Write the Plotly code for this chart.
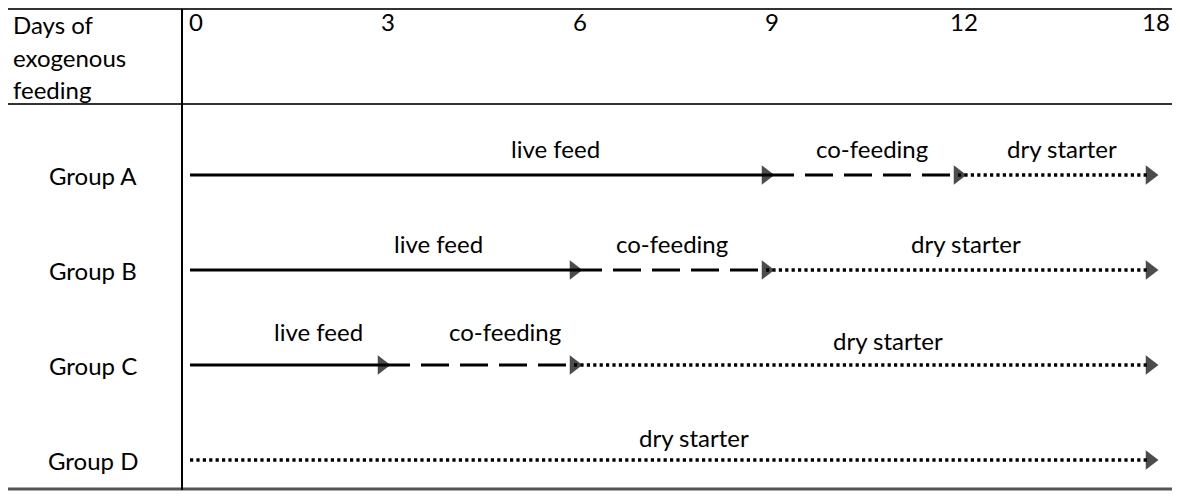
import plotly.graph_objects as go

# feeding schedule (days of exogenous feeding)
tick_days = [0, 3, 6, 9, 12, 18]
groups = ["Group A", "Group B", "Group C", "Group D"]
live_end = [9, 6, 3, 0]
cofeed_end = [12, 9, 6, 0]
last_day = 18
phase_names = ["live feed", "co-feeding", "dry starter"]
header_lines = ["Days of", "exogenous", "feeding"]

# styling per phase
phase_dash = ["solid", "28px,11px", "3.2px,3.2px"]
phase_width = [3, 3, 3.4]
# label nudges (px) per group x phase, to sit like the original
label_dx = [[77, 10, 8], [56, 2, 8], [32, 27, 26], [0, 0, 24]]
label_dy = [[27, 27, 27], [27, 27, 27], [34, 34, 25], [0, 0, 23]]

FONT = "Lato, Carlito, 'Open Sans', sans-serif"
INK = "#000000"
OFF = 8                      # page body margin
W, H = 1181 - OFF, 499 - OFF
TOP = 29
SIZE = 24


def pos(day):
    return tick_days.index(day)


def px(xpix):
    # reference pixel -> paper x
    return (xpix - OFF) / W


def py(ypix):
    # reference pixel -> paper y
    return (H - (ypix - OFF)) / (H - TOP)


fig = go.Figure()
annotations = []

for gi, name in enumerate(groups):
    bounds = [0, live_end[gi], cofeed_end[gi], last_day]
    for pi in range(3):
        start, end = bounds[pi], bounds[pi + 1]
        if end <= start:
            continue
        x0, x1 = pos(start), pos(end)
        fig.add_trace(go.Scatter(
            x=[x0, x1], y=[gi, gi], mode="lines+markers",
            line=dict(color=INK, width=phase_width[pi], dash=phase_dash[pi]),
            marker=dict(symbol="triangle-right", size=[0, 17], color=INK,
                        line=dict(width=0)),
            hoverinfo="skip", showlegend=False,
        ))
        annotations.append(dict(
            x=(x0 + x1) / 2, y=gi, xref="x", yref="y", text=phase_names[pi],
            showarrow=False, xanchor="center", yanchor="middle",
            xshift=label_dx[gi][pi], yshift=label_dy[gi][pi],
            font=dict(family=FONT, size=SIZE, color=INK),
        ))
    annotations.append(dict(
        x=px(93), y=gi, xref="paper", yref="y", text=name, showarrow=False,
        xanchor="center", yanchor="middle",
        font=dict(family=FONT, size=SIZE, color=INK),
    ))

for li, txt in enumerate(header_lines):
    annotations.append(dict(
        x=px(11), y=py(25 + 32.5 * li), xref="paper", yref="paper",
        xanchor="left", yanchor="middle", text=txt, showarrow=False,
        font=dict(family=FONT, size=SIZE, color=INK),
    ))

shapes = [
    dict(type="line", xref="paper", yref="paper", x0=px(5), x1=px(1172),
         y0=py(9), y1=py(9), line=dict(color="#333333", width=2)),
    dict(type="line", xref="paper", yref="paper", x0=px(5), x1=px(1172),
         y0=py(104), y1=py(104), line=dict(color="#333333", width=2)),
    dict(type="line", xref="paper", yref="paper", x0=px(4), x1=px(1172),
         y0=py(489), y1=py(489), line=dict(color="#555555", width=3)),
    dict(type="line", xref="paper", yref="paper", x0=px(182), x1=px(182),
         y0=py(9), y1=py(490), line=dict(color=INK, width=2)),
]

# day-position 0 sits at x=190px, position 5 at x=1150px (reference pixels)
unit = (1150 - 190) / 5
x_lo = -(190 - OFF) / unit
row0 = 175 - OFF
fig.update_layout(
    width=W, height=H, margin=dict(l=0, r=0, t=TOP, b=0),
    paper_bgcolor="white", plot_bgcolor="white",
    xaxis=dict(range=[x_lo, x_lo + W / unit], side="top",
               tickvals=list(range(len(tick_days))),
               ticktext=[str(d) for d in tick_days], ticklabelshift=6,
               showgrid=False, zeroline=False, showline=False, ticks="",
               tickfont=dict(family=FONT, size=SIZE, color=INK), fixedrange=True),
    yaxis=dict(range=[(H - row0) / 95, (TOP - row0) / 95], visible=False,
               fixedrange=True),
    shapes=shapes, annotations=annotations,
)

fig.write_html("out.html")
